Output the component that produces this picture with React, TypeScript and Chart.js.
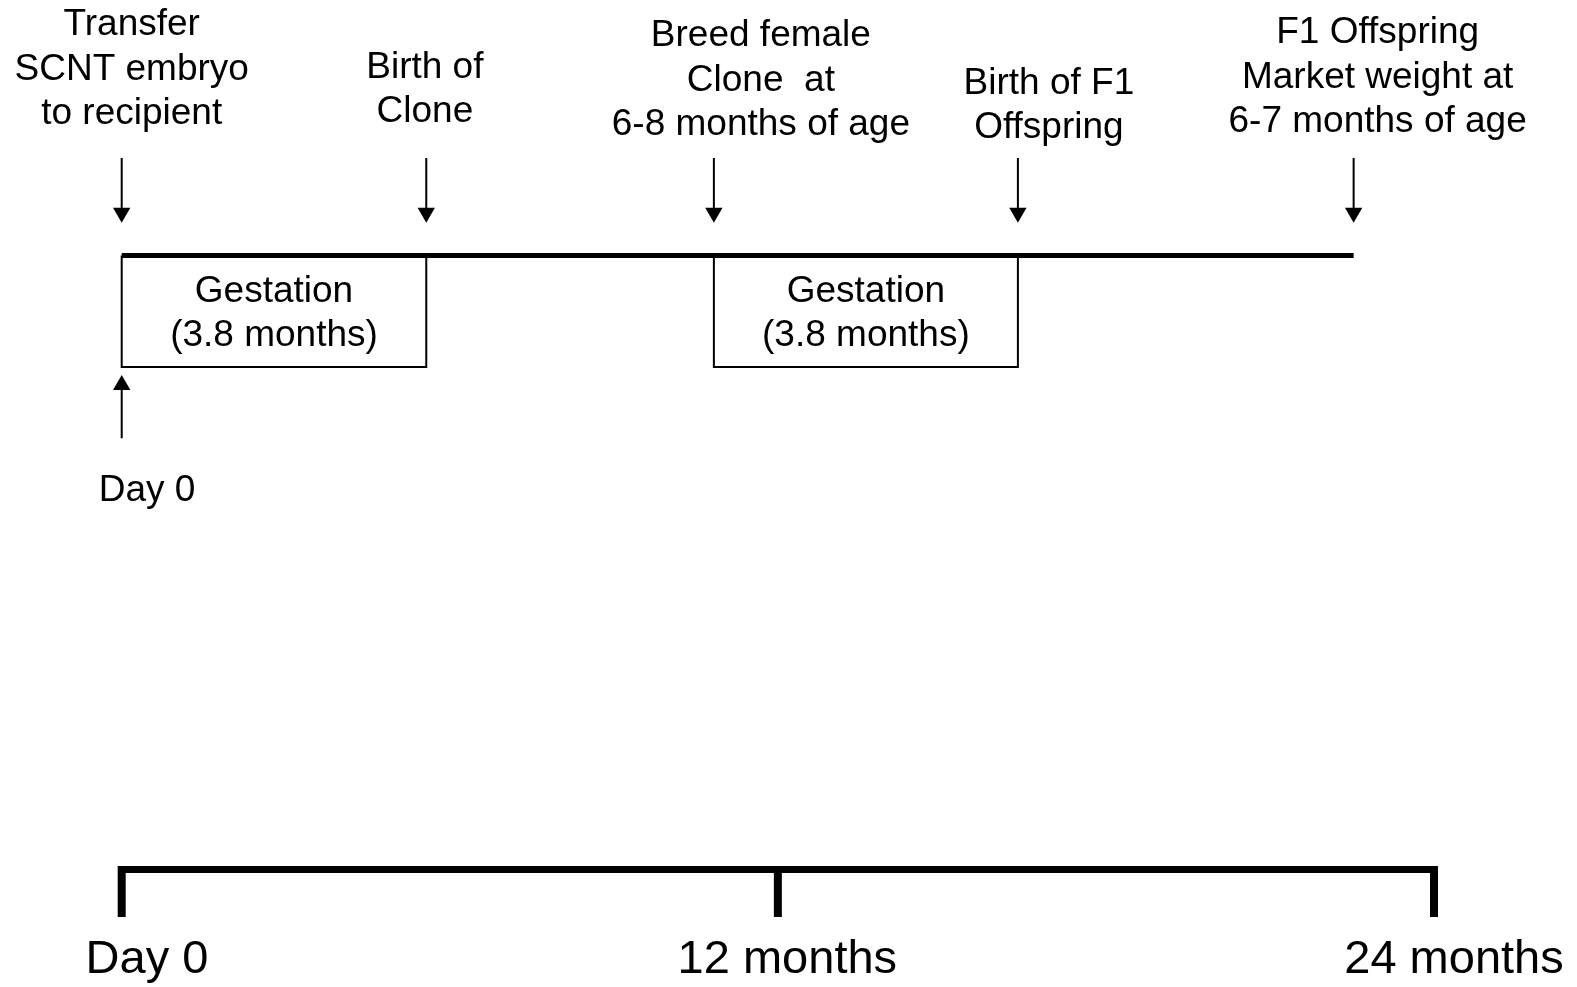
import React, { useEffect, useRef } from "react";
import { Chart, registerables } from "chart.js";

Chart.register(...registerables);

// ---------- Data ----------
const eventMonths = [0, 5.57, 10.83, 16.39, 22.53];
const eventLabels = [
  ["Transfer", "SCNT embryo", "to recipient"],
  ["Birth of", "Clone"],
  ["Breed female", "Clone  at", "6-8 months of age"],
  ["Birth of F1", "Offspring"],
  ["F1 Offspring", "Market weight at", "6-7 months of age"],
];
const gestationStarts = [0, 10.83];
const gestationEnds = [5.57, 16.39];
const gestationLabel = ["Gestation", "(3.8 months)"];
const startMarkerMonth = 0;
const startMarkerLabel = "Day 0";
const timelineEnd = 22.53;
const axisTicks = [0, 12, 24];
const axisTickLabels = ["Day 0", "12 months", "24 months"];

// ---------- Layout (pixels / layout units) ----------
const W = 1577;
const H = 987;
const X_MIN = -2.2257;
const X_MAX = 26.615;
const LINE_Y = 255.5;
const BOX_BOTTOM = 367;
const ARROW_TOP = 158;
const ARROW_TIP = 222.7;
const HEAD_R = 10;
const UP_TIP = 375;
const UP_BOTTOM = 438.3;
const AXIS_Y = 869.5;
const TICK_BOTTOM = 917;
const TOP_FONT = 37;
const AXIS_FONT = 47;
const LINE_H = 44.3;
const eventLabelDx = [10, -1.4, 47, 31, 24];
const eventLabelBaseline = [35.3, 77.6, 46.4, 93.7, 43.4];
const gestationBaseline = 301.8;
const startLabelDx = 25.3;
const startLabelBaseline = 501;
const axisLabelDx = [25.3, 9.5, 20];
const axisLabelBaseline = 973;
const FONT_FAMILY = '"Liberation Sans", Arial, Helvetica, sans-serif';

const seg = (pts: { x: number; y: number }[], width: number) => ({
  type: "line" as const,
  data: pts,
  borderColor: "#000",
  borderWidth: width,
  pointRadius: 0,
  fill: false,
  tension: 0,
  clip: false as any,
  borderCapStyle: "butt" as const,
  borderJoinStyle: "miter" as const,
});

const textPlugin = {
  id: "timelineText",
  afterDatasetsDraw(chart: any) {
    const { ctx } = chart;
    const xs = chart.scales.x;
    const ys = chart.scales.y;
    ctx.save();
    ctx.fillStyle = "#000";
    ctx.textAlign = "center";
    ctx.textBaseline = "alphabetic";
    ctx.font = `${TOP_FONT}px ${FONT_FAMILY}`;
    eventLabels.forEach((lines, i) => {
      const cx = xs.getPixelForValue(eventMonths[i]) + eventLabelDx[i];
      lines.forEach((t, j) => {
        ctx.fillText(t, cx, ys.getPixelForValue(eventLabelBaseline[i] + j * LINE_H));
      });
    });
    gestationStarts.forEach((s, i) => {
      const cx = (xs.getPixelForValue(s) + xs.getPixelForValue(gestationEnds[i])) / 2;
      gestationLabel.forEach((t, j) => {
        ctx.fillText(t, cx, ys.getPixelForValue(gestationBaseline + j * LINE_H));
      });
    });
    ctx.fillText(
      startMarkerLabel,
      xs.getPixelForValue(startMarkerMonth) + startLabelDx,
      ys.getPixelForValue(startLabelBaseline)
    );
    ctx.font = `${AXIS_FONT}px ${FONT_FAMILY}`;
    axisTicks.forEach((t, i) => {
      ctx.fillText(
        axisTickLabels[i],
        xs.getPixelForValue(t) + axisLabelDx[i],
        ys.getPixelForValue(axisLabelBaseline)
      );
    });
    ctx.restore();
  },
};

export default function App() {
  const ref = useRef<HTMLCanvasElement | null>(null);

  useEffect(() => {
    document.body.style.margin = "0";
    const canvas = ref.current;
    if (!canvas) return;

    const datasets: any[] = [];
    // main timeline
    datasets.push(seg([{ x: 0, y: LINE_Y }, { x: timelineEnd, y: LINE_Y }], 5));
    // gestation boxes
    gestationStarts.forEach((s, i) => {
      const e = gestationEnds[i];
      datasets.push(
        seg(
          [
            { x: s, y: LINE_Y },
            { x: s, y: BOX_BOTTOM },
            { x: e, y: BOX_BOTTOM },
            { x: e, y: LINE_Y },
          ],
          2
        )
      );
    });
    // down arrow shafts
    eventMonths.forEach((m) => {
      datasets.push(seg([{ x: m, y: ARROW_TOP }, { x: m, y: ARROW_TIP - 10 }], 2));
    });
    // down arrow heads
    datasets.push({
      type: "scatter",
      data: eventMonths.map((m) => ({ x: m, y: ARROW_TIP - HEAD_R })),
      pointStyle: "triangle",
      rotation: 180,
      pointRadius: HEAD_R,
      backgroundColor: "#000",
      borderWidth: 0,
      clip: false,
    });
    // up arrow (Day 0)
    datasets.push(seg([{ x: startMarkerMonth, y: UP_BOTTOM }, { x: startMarkerMonth, y: UP_TIP + 10 }], 2));
    datasets.push({
      type: "scatter",
      data: [{ x: startMarkerMonth, y: UP_TIP + HEAD_R }],
      pointStyle: "triangle",
      rotation: 0,
      pointRadius: HEAD_R,
      backgroundColor: "#000",
      borderWidth: 0,
      clip: false,
    });
    // bottom axis
    datasets.push(seg([{ x: axisTicks[0], y: AXIS_Y }, { x: axisTicks[axisTicks.length - 1], y: AXIS_Y }], 7));
    axisTicks.forEach((t) => {
      datasets.push(seg([{ x: t, y: AXIS_Y - 3.5 }, { x: t, y: TICK_BOTTOM }], 8));
    });

    const chart = new Chart(canvas, {
      type: "scatter",
      data: { datasets },
      options: {
        responsive: false,
        animation: false,
        devicePixelRatio: 1,
        events: [],
        layout: { padding: 0, autoPadding: false },
        plugins: { legend: { display: false }, tooltip: { enabled: false } },
        scales: {
          x: { type: "linear", min: X_MIN, max: X_MAX, bounds: "data", display: false },
          y: { type: "linear", min: 0, max: H, reverse: true, bounds: "data", display: false },
        },
      },
      plugins: [textPlugin],
    });
    return () => chart.destroy();
  }, []);

  return (
    <div style={{ width: W, height: H, background: "#fff" }}>
      <canvas ref={ref} width={W} height={H} style={{ display: "block" }} />
    </div>
  );
}
